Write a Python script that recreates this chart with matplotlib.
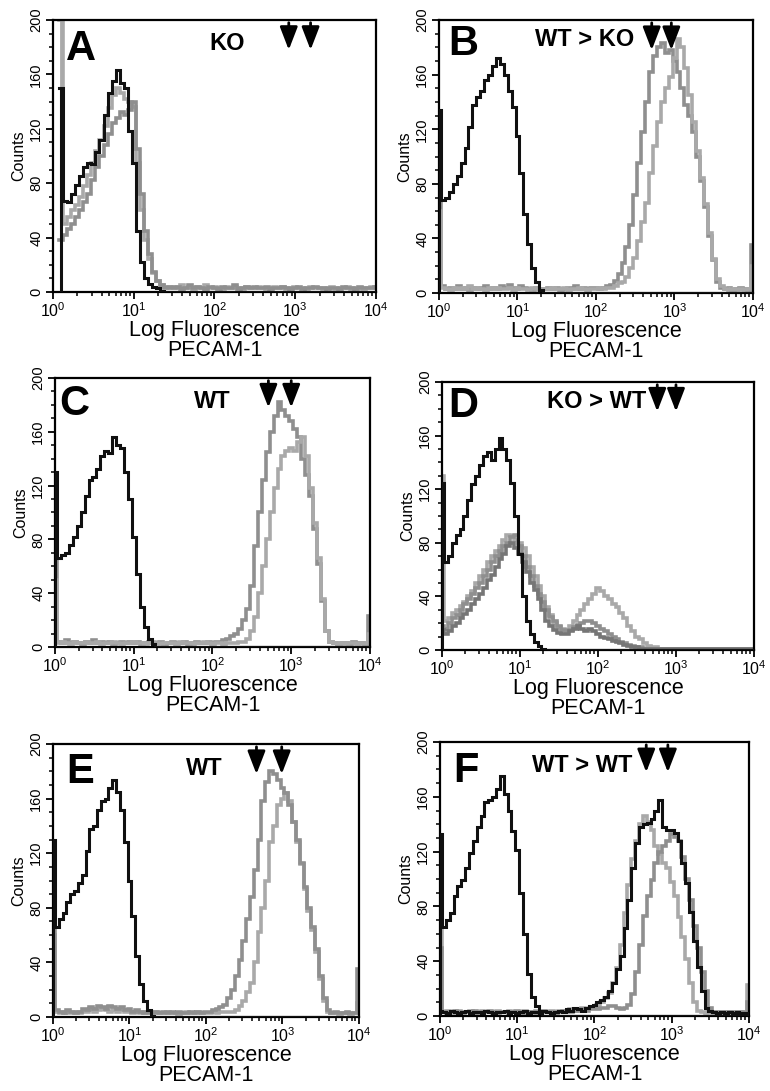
import numpy as np
import matplotlib
matplotlib.use("Agg")
import matplotlib.pyplot as plt
from matplotlib.ticker import FixedLocator, LogLocator, MultipleLocator, NullFormatter, FuncFormatter

plt.rcParams['font.family'] = ['Liberation Sans', 'DejaVu Sans']
plt.rcParams['mathtext.fontset'] = 'custom'
plt.rcParams['mathtext.rm'] = 'Liberation Sans'
plt.rcParams['mathtext.it'] = 'Liberation Sans:italic'
plt.rcParams['mathtext.bf'] = 'Liberation Sans:bold'

nan = np.nan

# channel positions, in decades (10^0 .. 10^4, 81 channels)
log_channel = np.arange(81) * 0.05

# ---- panel A : KO ----
black_A = [
    nan, nan, 150, 67, 66, 72, 79, 85, 92, 95,
    94, 103, 112, 130, 146, 155, 163, 154, 150, 118,
    95, 45, 22, 10, 6, 4, 3, 1, 0, 0,
    0, 0, 0, 0, 0, 0, 0, 0, 0, 0,
    0, 0, 0, 0, 0, 0, 0, 0, 0, 0,
    0, 0, 0, 0, 0, 0, 0, 0, 0, 0,
    0, 0, 0, 0, 0, 0, 0, 0, 0, 0,
    0, 0, 0, 0, 0, 0, 0, 0, 0, 0,
    0]
gray_A1 = [
    nan, nan, 200, 50, 55, 60, 64, 70, 78, 86,
    95, 104, 112, 122, 135, 145, 150, 146, 142, 140,
    136, 95, 60, 38, 24, 14, 8, 5, 4, 3,
    4, 3, 5, 3, 4, 2, 4, 3, 5, 3,
    4, 3, 2, 4, 3, 4, 3, 2, 4, 3,
    3, 4, 3, 2, 3, 4, 3, 4, 2, 3,
    4, 3, 3, 2, 4, 3, 3, 2, 3, 4,
    2, 3, 3, 4, 2, 3, 3, 2, 3, 4,
    3]
gray_A2 = [
    nan, nan, 38, 42, 46, 50, 55, 60, 66, 72,
    82, 92, 100, 108, 116, 124, 128, 132, 130, 134,
    140, 105, 72, 45, 28, 15, 8, 5, 3, 4,
    3, 4, 2, 3, 5, 3, 4, 3, 2, 4,
    3, 2, 4, 3, 3, 5, 2, 3, 4, 3,
    4, 3, 3, 4, 2, 3, 3, 4, 3, 2,
    3, 4, 2, 3, 3, 4, 3, 3, 2, 3,
    3, 2, 4, 3, 3, 2, 4, 3, 3, 3,
    4]

# ---- panel B : WT > KO ----
black_B = [
    134, 68, 70, 74, 80, 86, 95, 106, 122, 138,
    144, 148, 156, 160, 166, 172, 168, 160, 148, 136,
    115, 88, 58, 36, 18, 8, 2, 0, 0, 0,
    0, 0, 0, 0, 0, 0, 0, 0, 0, 0,
    0, 0, 0, 0, 0, 0, 0, 0, 0, 0,
    0, 0, 0, 0, 0, 0, 0, 0, 0, 0,
    0, 0, 0, 0, 0, 0, 0, 0, 0, 0,
    0, 0, 0, 0, 0, 0, 0, 0, 0, 0,
    0]
gray_B1 = [
    95, 5, 3, 4, 3, 5, 3, 4, 2, 4,
    3, 4, 5, 3, 4, 3, 5, 4, 6, 4,
    3, 5, 4, 3, 2, 4, 3, 3, 4, 3,
    4, 2, 3, 4, 3, 5, 3, 4, 3, 4,
    4, 3, 4, 5, 6, 9, 14, 22, 34, 50,
    72, 95, 118, 140, 162, 174, 180, 183, 176, 178,
    170, 162, 150, 138, 130, 118, 100, 82, 63, 42,
    24, 8, 4, 3, 4, 2, 3, 4, 3, 2,
    35]
gray_B2 = [
    60, 4, 3, 2, 4, 3, 4, 3, 5, 3,
    4, 3, 2, 4, 3, 4, 3, 3, 4, 2,
    4, 3, 3, 2, 4, 3, 2, 3, 3, 4,
    3, 3, 4, 2, 3, 3, 4, 3, 2, 3,
    3, 4, 3, 4, 4, 5, 7, 8, 12, 18,
    26, 38, 52, 66, 88, 108, 125, 140, 150, 158,
    172, 186, 180, 165, 145, 125, 104, 84, 65, 44,
    25, 10, 5, 3, 2, 3, 2, 3, 2, 3,
    20]

# ---- panel C : WT ----
black_C = [
    130, 66, 68, 70, 76, 82, 90, 100, 112, 124,
    126, 132, 142, 146, 144, 156, 150, 148, 130, 110,
    82, 54, 30, 15, 6, 2, 0, 0, 0, 0,
    0, 0, 0, 0, 0, 0, 0, 0, 0, 0,
    0, 0, 0, 0, 0, 0, 0, 0, 0, 0,
    0, 0, 0, 0, 0, 0, 0, 0, 0, 0,
    0, 0, 0, 0, 0, 0, 0, 0, 0, 0,
    0, 0, 0, 0, 0, 0, 0, 0, 0, 0,
    0]
gray_C1 = [
    65, 4, 3, 5, 3, 4, 3, 2, 4, 3,
    5, 3, 4, 3, 4, 2, 3, 4, 3, 4,
    3, 4, 2, 3, 4, 3, 3, 4, 2, 3,
    4, 3, 3, 4, 2, 3, 4, 3, 3, 4,
    3, 4, 4, 5, 6, 8, 10, 13, 20, 28,
    45, 75, 100, 124, 145, 160, 172, 182, 176, 172,
    168, 162, 156, 140, 128, 112, 88, 62, 34, 12,
    4, 3, 2, 3, 3, 2, 4, 3, 3, 2,
    23]
gray_C2 = [
    50, 3, 4, 3, 2, 4, 3, 3, 4, 3,
    3, 4, 2, 3, 3, 4, 3, 2, 3, 3,
    4, 3, 3, 2, 3, 4, 3, 2, 3, 3,
    3, 2, 4, 3, 3, 2, 3, 3, 4, 3,
    2, 3, 3, 2, 3, 3, 3, 4, 4, 6,
    12, 22, 40, 60, 80, 100, 118, 132, 142, 146,
    148, 146, 152, 156, 142, 118, 92, 66, 36, 12,
    4, 3, 2, 3, 2, 3, 3, 2, 3, 2,
    10]

# ---- panel D : KO > WT ----
black_D = [
    125, 66, 70, 80, 86, 90, 100, 112, 124, 130,
    138, 145, 148, 142, 150, 158, 150, 142, 125, 100,
    72, 40, 22, 12, 6, 3, 1, 0, 0, 0,
    0, 0, 0, 0, 0, 0, 0, 0, 0, 0,
    0, 0, 0, 0, 0, 0, 0, 0, 0, 0,
    0, 0, 0, 0, 0, 0, 0, 0, 0, 0,
    0, 0, 0, 0, 0, 0, 0, 0, 0, 0,
    0, 0, 0, 0, 0, 0, 0, 0, 0, 0,
    0]
gray_D1 = [
    130, 22, 24, 28, 30, 33, 36, 40, 44, 50,
    55, 60, 66, 70, 74, 78, 82, 86, 85, 82,
    80, 76, 70, 62, 55, 48, 40, 32, 26, 20,
    17, 16, 15, 18, 22, 26, 30, 34, 38, 42,
    46, 44, 40, 38, 34, 32, 28, 24, 18, 14,
    10, 8, 5, 3, 2, 2, 1, 1, 1, 1,
    1, 1, 1, 1, 1, 1, 1, 1, 1, 1,
    1, 1, 1, 1, 1, 1, 1, 1, 1, 1,
    1]
gray_D2 = [
    15, 12, 14, 18, 20, 24, 27, 30, 34, 38,
    42, 46, 52, 56, 62, 68, 72, 78, 80, 76,
    72, 66, 58, 50, 45, 38, 30, 22, 18, 15,
    13, 12, 12, 14, 16, 18, 16, 14, 16, 14,
    12, 10, 9, 8, 7, 6, 5, 4, 3, 2,
    2, 1, 1, 1, 1, 1, 1, 1, 1, 1,
    1, 1, 1, 1, 1, 1, 1, 1, 1, 1,
    1, 1, 1, 1, 1, 1, 1, 1, 1, 1,
    1]
gray_D3 = [
    18, 16, 20, 24, 26, 30, 34, 38, 42, 46,
    50, 55, 60, 66, 70, 74, 78, 80, 84, 86,
    78, 70, 62, 55, 48, 42, 36, 30, 25, 22,
    18, 15, 14, 15, 17, 19, 20, 22, 22, 20,
    18, 16, 14, 12, 10, 8, 6, 5, 4, 3,
    2, 2, 1, 1, 1, 1, 1, 1, 1, 1,
    1, 1, 1, 1, 1, 1, 1, 1, 1, 1,
    1, 1, 1, 1, 1, 1, 1, 1, 1, 1,
    1]

# ---- panel E : WT ----
black_E = [
    130, 66, 72, 76, 84, 90, 92, 98, 104, 122,
    138, 140, 152, 158, 160, 168, 174, 165, 152, 128,
    100, 74, 45, 24, 12, 5, 1, 0, 0, 0,
    0, 0, 0, 0, 0, 0, 0, 0, 0, 0,
    0, 0, 0, 0, 0, 0, 0, 0, 0, 0,
    0, 0, 0, 0, 0, 0, 0, 0, 0, 0,
    0, 0, 0, 0, 0, 0, 0, 0, 0, 0,
    0, 0, 0, 0, 0, 0, 0, 0, 0, 0,
    0]
gray_E1 = [
    95, 5, 4, 3, 5, 4, 3, 4, 6, 5,
    7, 6, 8, 7, 6, 8, 7, 6, 7, 5,
    6, 4, 5, 4, 3, 4, 3, 4, 3, 4,
    3, 4, 3, 4, 3, 3, 4, 3, 4, 3,
    4, 4, 5, 6, 7, 9, 14, 20, 30, 42,
    56, 72, 88, 108, 130, 158, 172, 180, 178, 174,
    168, 164, 155, 143, 130, 113, 95, 80, 66, 50,
    30, 14, 5, 3, 4, 3, 3, 4, 3, 3,
    35]
gray_E2 = [
    60, 4, 3, 4, 3, 3, 4, 3, 4, 4,
    5, 4, 5, 6, 5, 4, 5, 4, 5, 4,
    4, 3, 4, 3, 4, 3, 3, 4, 3, 3,
    4, 3, 3, 2, 3, 4, 3, 3, 4, 3,
    3, 3, 4, 3, 4, 4, 4, 4, 5, 8,
    12, 18, 25, 40, 62, 80, 100, 128, 140, 155,
    160, 164, 158, 143, 128, 112, 94, 78, 64, 48,
    28, 12, 4, 3, 3, 2, 3, 3, 2, 3,
    10]

# ---- panel F : WT > WT ----
black_F1 = [
    133, 65, 70, 75, 88, 95, 99, 108, 119, 128,
    138, 146, 156, 158, 160, 166, 175, 162, 150, 135,
    121, 90, 60, 31, 14, 7, 3, 0, 0, 0,
    0, 0, 0, 0, 0, 0, 0, 0, 0, 0,
    0, 0, 0, 0, 0, 0, 0, 0, 0, 0,
    0, 0, 0, 0, 0, 0, 0, 0, 0, 0,
    0, 0, 0, 0, 0, 0, 0, 0, 0, 0,
    0, 0, 0, 0, 0, 0, 0, 0, 0, 0,
    0]
black_F2 = [
    4, 3, 2, 4, 3, 2, 3, 4, 2, 3,
    3, 2, 4, 3, 2, 3, 3, 4, 2, 3,
    2, 3, 4, 2, 3, 3, 2, 4, 3, 2,
    3, 4, 3, 5, 4, 6, 5, 4, 6, 7,
    8, 10, 12, 14, 18, 24, 34, 44, 64, 85,
    108, 126, 138, 140, 141, 144, 150, 158, 138, 136,
    136, 134, 128, 112, 97, 76, 55, 36, 18, 6,
    4, 3, 2, 3, 2, 3, 2, 3, 2, 2,
    2]
gray_F1 = [
    70, 3, 4, 3, 2, 4, 3, 3, 4, 2,
    3, 4, 3, 3, 2, 4, 3, 3, 4, 3,
    3, 2, 4, 3, 3, 4, 2, 3, 3, 4,
    3, 4, 3, 4, 5, 4, 5, 6, 5, 6,
    6, 8, 10, 13, 17, 24, 35, 52, 75, 96,
    115, 128, 140, 146, 142, 136, 124, 118, 112, 108,
    98, 88, 72, 58, 42, 24, 10, 4, 3, 2,
    3, 2, 3, 2, 3, 3, 2, 3, 2, 3,
    23]
gray_F2 = [
    50, 3, 2, 3, 4, 3, 2, 3, 3, 4,
    2, 3, 3, 4, 3, 2, 3, 3, 2, 3,
    4, 3, 2, 3, 3, 2, 3, 4, 3, 3,
    2, 3, 4, 3, 3, 4, 4, 5, 4, 5,
    5, 5, 6, 6, 7, 7, 6, 5, 6, 8,
    16, 32, 52, 73, 88, 99, 112, 120, 124, 128,
    133, 131, 128, 116, 100, 85, 66, 50, 32, 18,
    6, 3, 2, 3, 2, 3, 2, 3, 3, 2,
    10]

letters = ['A', 'B', 'C', 'D', 'E', 'F']
titles = ['KO', 'WT > KO', 'WT', 'KO > WT', 'WT', 'WT > WT']
# arrow positions (decades) above the sample peaks
arrow_logs = [(2.92, 3.19), (2.71, 2.96), (2.71, 3.00), (2.76, 3.00), (2.66, 2.99), (2.67, 2.95)]

BLACK = '#101010'
G_LIGHT = '#a9a9a9'
G_MID = '#8f8f8f'
G_DARK = '#767676'

panels = [
    dict(curves=[(gray_A1, G_LIGHT), (gray_A2, G_MID), (black_A, BLACK)],
         box=[0.0688, 0.7324, 0.4195, 0.2493], lpos=(0.04, 0.853), tpos=(0.538, 0.89)),
    dict(curves=[(gray_B1, G_MID), (gray_B2, G_LIGHT), (black_B, BLACK)],
         box=[0.5701, 0.7314, 0.4078, 0.2502], lpos=(0.03, 0.872), tpos=(0.465, 0.905)),
    dict(curves=[(gray_C1, G_MID), (gray_C2, G_LIGHT), (black_C, BLACK)],
         box=[0.0714, 0.4070, 0.4091, 0.2466], lpos=(0.012, 0.862), tpos=(0.50, 0.888)),
    dict(curves=[(gray_D1, G_LIGHT), (gray_D3, G_MID), (gray_D2, G_DARK), (black_D, BLACK)],
         box=[0.5740, 0.4042, 0.4052, 0.2456], lpos=(0.02, 0.869), tpos=(0.497, 0.903)),
    dict(curves=[(gray_E2, G_LIGHT), (gray_E1, G_MID), (black_E, BLACK)],
         box=[0.0688, 0.0678, 0.3974, 0.2502], lpos=(0.045, 0.857), tpos=(0.494, 0.886)),
    dict(curves=[(gray_F1, G_LIGHT), (gray_F2, G_MID), (black_F1, BLACK), (black_F2, BLACK)],
         box=[0.5714, 0.0687, 0.4013, 0.2511], lpos=(0.042, 0.854), tpos=(0.46, 0.89)),
]

fluor = 10 ** log_channel


def decade_label(v, pos):
    return r'$\mathregular{10^{%d}}$' % int(round(np.log10(v)))


fig = plt.figure(figsize=(7.7, 10.91), dpi=100)

for i, p in enumerate(panels):
    ax = fig.add_axes(p['box'])
    for values, color in p['curves']:
        vals = np.array(values, dtype=float)
        lw = 2.2 if color == BLACK else 2.6
        z = 3 if color == BLACK else 2
        ax.plot(fluor, vals, drawstyle='steps-mid', color=color, lw=lw,
                solid_joinstyle='miter', zorder=z)
        # first channel pile-up (thin for the gray traces)
        first = np.flatnonzero(~np.isnan(vals))[0]
        ax.vlines(fluor[first], 0, vals[first], color=color,
                  lw=lw if color == BLACK else 1.3, zorder=z)

    ax.set_xscale('log')
    ax.set_xlim(1, 1e4)
    ax.set_ylim(0, 200)
    ax.xaxis.set_major_locator(FixedLocator([1, 10, 100, 1000, 10000]))
    ax.xaxis.set_major_formatter(FuncFormatter(decade_label))
    ax.xaxis.set_minor_locator(LogLocator(base=10, subs=np.arange(2, 10), numticks=20))
    ax.xaxis.set_minor_formatter(NullFormatter())
    ax.yaxis.set_major_locator(MultipleLocator(40))
    ax.yaxis.set_minor_locator(MultipleLocator(10))
    ax.tick_params(which='major', direction='out', length=5, width=1.3)
    ax.tick_params(which='minor', direction='out', length=3, width=1.1)
    ax.tick_params(axis='x', labelsize=11.5, pad=2)
    ax.tick_params(axis='y', labelsize=10.5, pad=2)
    for lab in ax.get_yticklabels():
        lab.set_rotation(90)
        lab.set_va('center')
    for sp in ax.spines.values():
        sp.set_linewidth(1.6)

    ax.set_xlabel('Log Fluorescence\nPECAM-1', fontsize=15.5, linespacing=0.92, labelpad=0)
    ax.set_ylabel('Counts', fontsize=11.5, labelpad=2)

    ax.text(p['lpos'][0], p['lpos'][1], letters[i], transform=ax.transAxes,
            fontsize=30, fontweight='bold', ha='left', va='baseline')
    ax.text(p['tpos'][0], p['tpos'][1], titles[i], transform=ax.transAxes,
            fontsize=17, fontweight='bold', ha='center', va='baseline')
    for a in arrow_logs[i]:
        ax.annotate('', xy=(10 ** a, 178), xytext=(10 ** a, 198),
                    arrowprops=dict(arrowstyle='-|>,head_length=0.7,head_width=0.27',
                                    color='black', lw=2, mutation_scale=20,
                                    shrinkA=0, shrinkB=0), zorder=5)

fig.savefig('out.png', dpi=100)
